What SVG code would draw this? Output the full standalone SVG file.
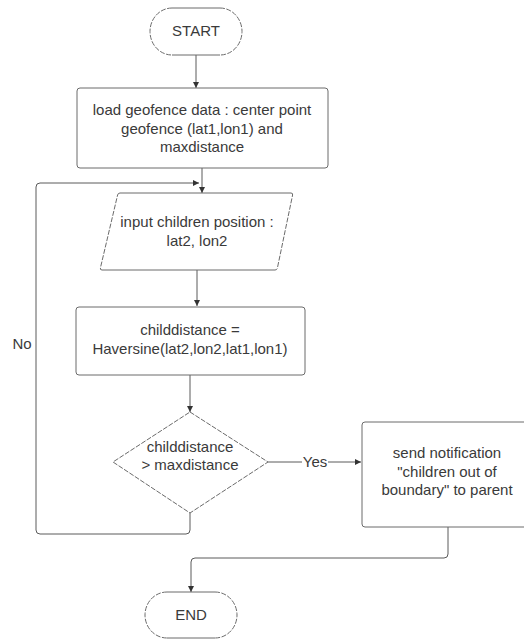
<svg xmlns="http://www.w3.org/2000/svg" width="524" height="639" viewBox="0 0 524 639">
<style>
.shape{fill:#ffffff;stroke:#6b6b6b;stroke-width:1}
.fillonly{fill:#ffffff;stroke:none}
.solid{fill:none;stroke:#6b6b6b;stroke-width:1}
.dash{fill:none;stroke:#6b6b6b;stroke-width:1;stroke-dasharray:5 1.5}
.conn{fill:none;stroke:#5a5a5a;stroke-width:1}
text{font-family:"Liberation Sans",Arial,sans-serif;font-size:15px;fill:#3a3a3a;text-anchor:middle}
</style>
<defs>
<marker id="arr" viewBox="0 0 10 10" refX="10" refY="5" markerWidth="6" markerHeight="6" orient="auto" markerUnits="userSpaceOnUse">
<path d="M0,0 L10,5 L0,10 z" fill="#333333"/>
</marker>
</defs>
<rect width="524" height="639" fill="#ffffff"/>
<g id="connectors">
<path class="conn" d="M196,55 V88" marker-end="url(#arr)"/>
<path class="conn" d="M202,168 V193" marker-end="url(#arr)"/>
<path class="conn" d="M197,270 V306" marker-end="url(#arr)"/>
<path class="conn" d="M190,375 V412" marker-end="url(#arr)"/>
<path class="conn" d="M268,462 H361" marker-end="url(#arr)"/>
<rect x="302" y="452" width="26" height="18" fill="#ffffff"/>
<text x="315" y="467">Yes</text>
<path class="conn" d="M190,513 V530 Q190,534 186,534 H40 Q36,534 36,530 V187 Q36,183 40,183 H199" marker-end="url(#arr)"/>
<text x="22" y="349">No</text>
<path class="conn" d="M448,527 V554 Q448,558 444,558 H195 Q191,558 191,562 V592" marker-end="url(#arr)"/>
</g>
<g id="start">
<rect class="fillonly" x="150" y="8" width="92" height="47" rx="22" ry="22"/>
<path class="solid" d="M172,8 H220 M172,55 H220"/>
<path class="dash" d="M172,8 A22,23.5 0 0 0 172,55 M220,8 A22,23.5 0 0 1 220,55"/>
<text x="196" y="36">START</text>
</g>
<g id="load">
<rect class="shape" x="77" y="88" width="251" height="80" rx="3"/>
<text x="202" y="115">load geofence data : center point</text>
<text x="202" y="133.5">geofence (lat1,lon1) and</text>
<text x="202" y="152">maxdistance</text>
</g>
<g id="input">
<path class="fillonly" d="M118,193 H293 L277,270 H100 Z"/>
<path class="solid" d="M120,193 H291 M102,270 H275"/>
<path class="dash" d="M120,193 Q118,193 117.6,195 L100.4,268 Q100,270 102,270 M291,193 Q293,193 292.6,195 L277.4,268 Q277,270 275,270"/>
<text x="197" y="227">input children position :</text>
<text x="197" y="246">lat2, lon2</text>
</g>
<g id="compute">
<rect class="shape" x="76" y="307" width="229" height="68" rx="3"/>
<text x="190" y="335">childdistance =</text>
<text x="190" y="354">Haversine(lat2,lon2,lat1,lon1)</text>
</g>
<g id="decision">
<path class="fillonly" d="M190,412 L268,462 L190,513 L113,462 Z"/>
<path class="dash" d="M190,412 L268,462 L190,513 L113,462 Z"/>
<text x="190" y="452">childdistance</text>
<text x="190" y="470">&gt; maxdistance</text>
</g>
<g id="notify">
<rect class="shape" x="362" y="422" width="172" height="105" rx="3"/>
<text x="447" y="458">send notification</text>
<text x="447" y="477">"children out of</text>
<text x="447" y="495">boundary" to parent</text>
</g>
<g id="end">
<rect class="fillonly" x="145" y="592" width="92" height="46" rx="22" ry="22"/>
<path class="solid" d="M167,592 H215 M167,638 H215"/>
<path class="dash" d="M167,592 A22,23 0 0 0 167,638 M215,592 A22,23 0 0 1 215,638"/>
<text x="191" y="620">END</text>
</g>
</svg>
